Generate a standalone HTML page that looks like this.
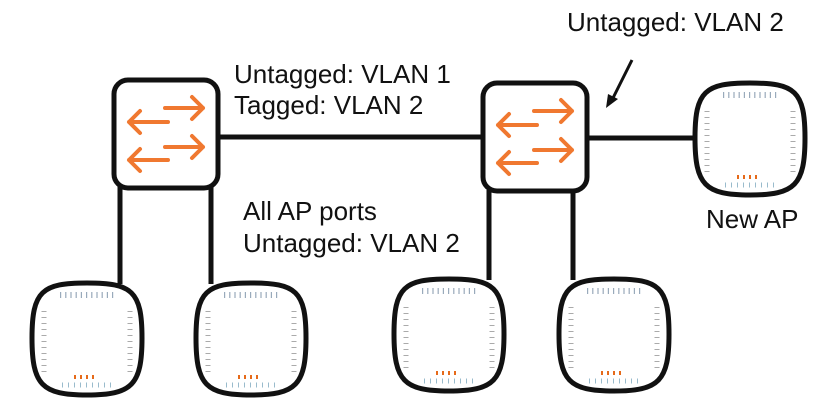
<!DOCTYPE html>
<html><head><meta charset="utf-8"><style>
html,body{margin:0;padding:0;background:#fff;}
svg{display:block;}
text{font-family:"Liberation Sans",Arial,sans-serif;font-size:26px;fill:#111;}
</style></head><body>
<svg width="839" height="408" viewBox="0 0 839 408" xmlns="http://www.w3.org/2000/svg">
<defs>
<g id="ap">
<path d="M55 2 C100 2 110 10 110 57 C110 104 100 114 55 114 C10 114 0 104 0 57 C0 10 10 2 55 2 Z" fill="#fff" stroke="#111" stroke-width="5"/>
<line x1="28" y1="14" x2="82" y2="14" stroke="#9ab" stroke-width="6" stroke-dasharray="1.2 4"/>
<line x1="12" y1="30" x2="12" y2="92" stroke="#aaa" stroke-width="5" stroke-dasharray="1 5"/>
<line x1="98" y1="30" x2="98" y2="92" stroke="#aaa" stroke-width="5" stroke-dasharray="1 5"/>
<line x1="42" y1="96" x2="66" y2="96" stroke="#e66a1a" stroke-width="4" stroke-dasharray="2 4"/>
<line x1="30" y1="104" x2="82" y2="104" stroke="#9bc" stroke-width="5" stroke-dasharray="1 5"/>
</g>
<g id="sw">
<rect x="0" y="0" width="104" height="108" rx="14" fill="#fff" stroke="#111" stroke-width="5"/>
<g stroke="#f07830" stroke-width="4" fill="none" stroke-linecap="round" stroke-linejoin="round">
<path d="M51 28 H89 M78 17 L89 28 L78 39"/>
<path d="M54 42 H15 M26 31 L15 42 L26 53"/>
<path d="M51 67 H89 M78 56 L89 67 L78 78"/>
<path d="M54 80 H15 M26 69 L15 80 L26 91"/>
</g>
</g>
</defs>
<g stroke="#111" stroke-width="5" fill="none">
<line x1="218" y1="137" x2="484" y2="137"/>
<line x1="585" y1="138" x2="697" y2="138"/>
<line x1="120" y1="186" x2="120" y2="284"/>
<line x1="211" y1="186" x2="211" y2="284"/>
<line x1="489" y1="190" x2="489" y2="280"/>
<line x1="573" y1="190" x2="573" y2="280"/>
</g>
<use href="#sw" x="114" y="80"/>
<use href="#sw" x="483" y="83"/>
<use href="#ap" x="32" y="281"/>
<use href="#ap" x="196" y="281"/>
<use href="#ap" x="394" y="277"/>
<use href="#ap" x="559" y="277"/>
<use href="#ap" x="695" y="81"/>
<line x1="632" y1="60" x2="612" y2="100" stroke="#111" stroke-width="3"/>
<path d="M606 108 L608 94 L618 99 Z" fill="#111"/>
<text x="234" y="83">Untagged: VLAN 1</text>
<text x="234" y="114">Tagged: VLAN 2</text>
<text x="243" y="220">All AP ports</text>
<text x="243" y="252">Untagged: VLAN 2</text>
<text x="567" y="31">Untagged: VLAN 2</text>
<text x="706" y="228">New AP</text>
</svg>
</body></html>
